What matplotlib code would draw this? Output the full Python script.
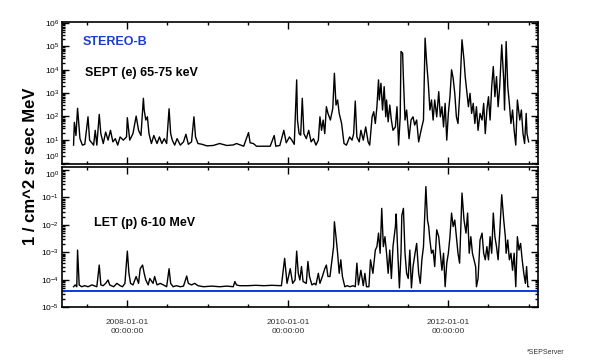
import matplotlib
matplotlib.use("Agg")
import matplotlib.pyplot as plt
import numpy as np
from matplotlib.ticker import LogLocator, FixedLocator, MultipleLocator, NullFormatter

plt.rcParams['font.family'] = ['Liberation Sans', 'DejaVu Sans']
plt.rcParams['mathtext.fontset'] = 'custom'
plt.rcParams['mathtext.rm'] = 'Liberation Sans'
plt.rcParams['mathtext.it'] = 'Liberation Sans'

# ---------------- data ----------------
# time in decimal years
sept_time = [
    2007.33, 2007.34, 2007.36, 2007.38, 2007.41, 2007.44, 2007.47, 2007.51, 2007.53, 2007.58,
    2007.60, 2007.62, 2007.65, 2007.67, 2007.70, 2007.73, 2007.76, 2007.79, 2007.82, 2007.85,
    2007.88, 2007.91, 2007.95, 2007.99, 2008.00, 2008.03, 2008.07, 2008.11, 2008.14, 2008.17,
    2008.20, 2008.21, 2008.23, 2008.25, 2008.27, 2008.30, 2008.33, 2008.37, 2008.40, 2008.43,
    2008.46, 2008.49, 2008.52, 2008.54, 2008.56, 2008.59, 2008.62, 2008.66, 2008.70, 2008.73,
    2008.76, 2008.80, 2008.83, 2008.85, 2008.88, 2008.93, 2008.99, 2009.07, 2009.15, 2009.24,
    2009.32, 2009.36, 2009.45, 2009.51, 2009.53, 2009.57, 2009.61, 2009.69, 2009.78, 2009.83,
    2009.85, 2009.90, 2009.95, 2009.98, 2010.02, 2010.05, 2010.08, 2010.11, 2010.12, 2010.14,
    2010.16, 2010.18, 2010.20, 2010.23, 2010.26, 2010.29, 2010.32, 2010.35, 2010.38, 2010.40,
    2010.42, 2010.44, 2010.46, 2010.48, 2010.50, 2010.53, 2010.56, 2010.58, 2010.60, 2010.62,
    2010.64, 2010.67, 2010.70, 2010.73, 2010.77, 2010.80, 2010.82, 2010.84, 2010.86, 2010.89,
    2010.91, 2010.94, 2010.97, 2011.00, 2011.02, 2011.05, 2011.07, 2011.09, 2011.11, 2011.13,
    2011.14, 2011.16, 2011.18, 2011.20, 2011.22, 2011.23, 2011.25, 2011.27, 2011.29, 2011.31,
    2011.34, 2011.36, 2011.38, 2011.40, 2011.41, 2011.43, 2011.44, 2011.46, 2011.48, 2011.51,
    2011.535, 2011.56, 2011.58, 2011.605, 2011.63, 2011.66, 2011.69, 2011.71, 2011.73, 2011.75,
    2011.77, 2011.79, 2011.81, 2011.83, 2011.855, 2011.88, 2011.90, 2011.92, 2011.94, 2011.96,
    2011.98, 2012.00, 2012.02, 2012.04, 2012.06, 2012.08, 2012.10, 2012.12, 2012.14, 2012.17,
    2012.195, 2012.21, 2012.23, 2012.25, 2012.27, 2012.29, 2012.31, 2012.33, 2012.35, 2012.37,
    2012.395, 2012.42, 2012.44, 2012.46, 2012.48, 2012.50, 2012.52, 2012.54, 2012.56, 2012.58,
    2012.60, 2012.62, 2012.64, 2012.665, 2012.69, 2012.70, 2012.72, 2012.74, 2012.76, 2012.78,
    2012.80, 2012.82, 2012.84, 2012.86, 2012.89, 2012.91, 2012.93, 2012.95, 2012.97, 2012.98,
    2013.00,
]
# SEPT electron flux 65-75 keV  [1 / cm^2 sr sec MeV]
sept_flux = [
    5.8, 55, 15, 220, 11, 5.8, 6.3, 95, 9.5, 5.8,
    25, 5.8, 120, 18, 6.8, 21, 9.5, 25, 8, 11,
    5.8, 13, 9.5, 13, 87, 9.5, 18, 102, 25, 15,
    590, 185, 69, 95, 18, 6.8, 15, 6.8, 13, 6.8,
    11, 6.8, 210, 18, 9.5, 5.8, 11, 5.8, 8, 17,
    6.3, 8, 95, 13, 6.8, 6.3, 5.4, 5.6, 6.8, 5.6,
    5.9, 6.8, 5.2, 20, 7.3, 6.8, 5.2, 5.2, 5.2, 15,
    5.2, 5.6, 25, 7.3, 13, 9.5, 6.3, 3630, 69, 18,
    15.5, 590, 18, 11, 25, 8, 11, 5.8, 9.5, 95,
    25, 69, 18, 257, 133, 69, 220, 7000, 303, 500,
    133, 49, 6.8, 5.8, 13, 9.5, 18, 450, 13, 8,
    25, 9.5, 35, 8, 5.8, 95, 157, 49, 257, 3630,
    500, 2600, 185, 1860, 95, 500, 58, 303, 69, 25,
    35, 257, 5.8, 95, 60000, 51000, 4260, 69, 185, 11,
    69, 95, 42, 69, 8, 25, 69, 224000, 19000, 2600,
    185, 500, 69, 500, 95, 1140, 95, 257, 35, 358,
    9.5, 133, 690, 9800, 4260, 960, 95, 49, 690, 190000,
    26000, 5000, 1140, 257, 960, 133, 358, 49, 257, 25,
    133, 69, 358, 18, 185, 690, 69, 1860, 13500, 690,
    5000, 257, 1860, 116000, 3630, 185, 160000, 1860, 358, 49,
    185, 25, 5.8, 500, 69, 185, 18, 6.8, 133, 18,
    8,
]

let_time = [
    2007.33, 2007.35, 2007.37, 2007.38, 2007.40, 2007.43, 2007.47, 2007.51, 2007.56, 2007.60,
    2007.62, 2007.65, 2007.67, 2007.70, 2007.73, 2007.76, 2007.78, 2007.83, 2007.87, 2007.91,
    2007.94, 2007.97, 2008.00, 2008.02, 2008.04, 2008.07, 2008.11, 2008.14, 2008.16, 2008.19,
    2008.21, 2008.23, 2008.26, 2008.28, 2008.32, 2008.34, 2008.37, 2008.41, 2008.45, 2008.49,
    2008.52, 2008.54, 2008.57, 2008.61, 2008.66, 2008.70, 2008.74, 2008.76, 2008.80, 2008.84,
    2008.88, 2008.95, 2009.05, 2009.15, 2009.24, 2009.32, 2009.34, 2009.36, 2009.40, 2009.50,
    2009.60, 2009.70, 2009.80, 2009.92, 2009.96, 2009.99, 2010.03, 2010.06, 2010.09, 2010.11,
    2010.13, 2010.15, 2010.17, 2010.19, 2010.23, 2010.25, 2010.27, 2010.30, 2010.33, 2010.35,
    2010.38, 2010.40, 2010.43, 2010.46, 2010.48, 2010.50, 2010.525, 2010.55, 2010.57, 2010.58,
    2010.60, 2010.62, 2010.64, 2010.66, 2010.68, 2010.71, 2010.74, 2010.775, 2010.81, 2010.84,
    2010.86, 2010.88, 2010.91, 2010.94, 2010.96, 2010.98, 2011.01, 2011.03, 2011.06, 2011.09,
    2011.11, 2011.13, 2011.15, 2011.17, 2011.19, 2011.21, 2011.23, 2011.25, 2011.27, 2011.29,
    2011.31, 2011.34, 2011.35, 2011.37, 2011.39, 2011.41, 2011.42, 2011.44, 2011.46, 2011.48,
    2011.50, 2011.52, 2011.54, 2011.56, 2011.585, 2011.605, 2011.63, 2011.65, 2011.67, 2011.69,
    2011.72, 2011.74, 2011.755, 2011.77, 2011.79, 2011.81, 2011.83, 2011.855, 2011.88, 2011.90,
    2011.92, 2011.94, 2011.96, 2011.98, 2012.00, 2012.02, 2012.04, 2012.06, 2012.08, 2012.10,
    2012.12, 2012.14, 2012.17, 2012.195, 2012.22, 2012.24, 2012.26, 2012.28, 2012.30, 2012.32,
    2012.34, 2012.35, 2012.37, 2012.395, 2012.42, 2012.44, 2012.46, 2012.48, 2012.50, 2012.52,
    2012.54, 2012.56, 2012.58, 2012.60, 2012.62, 2012.64, 2012.665, 2012.69, 2012.71, 2012.72,
    2012.74, 2012.76, 2012.78, 2012.80, 2012.82, 2012.84, 2012.86, 2012.88, 2012.90, 2012.92,
    2012.94, 2012.96, 2012.975, 2012.99, 2013.00,
]
# LET proton flux 6-10 MeV  [1 / cm^2 sr sec MeV]
let_flux = [
    5.5e-5, 6.4e-5, 5.5e-5, 1.2e-3, 6.4e-5, 5.5e-5, 6.0e-5, 5.5e-5, 6.4e-5, 5.8e-5,
    5.5e-5, 3.4e-4, 6.4e-5, 6.0e-5, 7.3e-5, 9.7e-5, 6.4e-5, 5.5e-5, 7.3e-5, 6.0e-5,
    5.5e-5, 7.3e-5, 1.1e-3, 1.7e-4, 7.3e-5, 6.4e-5, 1.3e-4, 7.3e-5, 2.5e-4, 3.4e-4,
    1.7e-4, 9.7e-5, 6.4e-5, 1.1e-4, 7.3e-5, 1.3e-4, 6.4e-5, 7.3e-5, 6.4e-5, 5.5e-5,
    2.5e-4, 7.3e-5, 5.5e-5, 6.0e-5, 5.5e-5, 5.8e-5, 1.35e-4, 7.3e-5, 6.4e-5, 7.3e-5,
    6.0e-5, 5.5e-5, 5.8e-5, 5.5e-5, 5.8e-5, 5.5e-5, 8.5e-5, 6.4e-5, 6.0e-5, 6.0e-5,
    6.2e-5, 6.0e-5, 6.2e-5, 6.0e-5, 6.0e-4, 7.3e-5, 2.5e-4, 7.3e-5, 9.7e-5, 1.1e-3,
    1.7e-4, 9.7e-5, 3.0e-4, 8.5e-5, 7.3e-5, 4.6e-4, 1.3e-4, 6.4e-5, 7.3e-5, 6.4e-5,
    1.7e-4, 7.3e-5, 1.3e-4, 2.5e-4, 3.4e-4, 1.3e-4, 1.3e-4, 5.3e-4, 1.6e-3, 1.3e-2,
    3.7e-3, 9.2e-4, 1.7e-4, 5.3e-4, 1.3e-4, 5.5e-5, 6.0e-5, 5.5e-5, 6.0e-5, 5.5e-5,
    4.0e-4, 6.4e-5, 2.2e-4, 6.0e-5, 1.7e-4, 5.5e-5, 5.5e-5, 5.3e-4, 1.7e-4, 1.2e-3,
    1.6e-3, 5.0e-3, 9.2e-4, 4.0e-2, 1.6e-3, 3.7e-3, 9.2e-4, 1.7e-4, 1.2e-3, 1.1e-4,
    1.6e-3, 8.7e-3, 2.5e-2, 9.2e-4, 5.0e-5, 9.2e-4, 2.2e-2, 4.0e-2, 9.2e-4, 1.7e-4,
    1.1e-4, 1.2e-3, 5.0e-5, 3.0e-4, 9.2e-4, 2.1e-3, 1.7e-4, 7.3e-5, 5.3e-4, 1.6e-3,
    2.5e-1, 1.5e-2, 8.7e-3, 2.8e-3, 9.2e-4, 1.2e-3, 3.0e-4, 6.6e-3, 3.7e-3, 9.2e-4,
    2.2e-4, 9.2e-4, 5.5e-5, 4.0e-4, 9.2e-4, 3.7e-3, 2.7e-2, 8.7e-3, 1.5e-2, 3.7e-3,
    9.2e-4, 4.0e-4, 1.45e-1, 1.5e-2, 5.0e-3, 2.7e-2, 9.2e-4, 3.7e-3, 9.2e-4, 5.3e-4,
    3.0e-4, 5.5e-5, 1.1e-4, 2.8e-3, 5.0e-3, 9.2e-4, 5.3e-4, 1.6e-3, 5.3e-4, 3.7e-3,
    9.2e-4, 2.7e-2, 3.7e-3, 1.6e-3, 5.3e-4, 5.0e-3, 1.26e-1, 1.5e-2, 3.7e-3, 9.2e-4,
    2.8e-3, 5.3e-4, 9.2e-4, 2.2e-4, 9.2e-4, 5.5e-5, 3.7e-3, 1.2e-3, 2.1e-3, 5.3e-4,
    1.7e-4, 7.3e-5, 3.0e-4, 5.5e-5, 5.5e-5,
]
let_background = 4.0e-5

xtick_years = [2008.0, 2010.0, 2012.0]
xtick_labels = ["2008-01-01\n00:00:00", "2010-01-01\n00:00:00", "2012-01-01\n00:00:00"]
x_limits = (2007.186, 2013.117)

spacecraft = "STEREO-B"
sept_label = "SEPT (e) 65-75 keV"
let_label = "LET (p) 6-10 MeV"
y_label = "1 / cm^2 sr sec MeV"
credit = "*SEPServer"

# ---------------- figure ----------------
W, H = 600, 362
fig = plt.figure(figsize=(W / 100, H / 100), dpi=100)


def box(l, t, r, b):
    return [l / W, 1 - b / H, (r - l) / W, (b - t) / H]


ax1 = fig.add_axes(box(62, 22, 538, 164))
ax2 = fig.add_axes(box(62, 167, 538, 307))

ax1.plot(sept_time, sept_flux, color='black', lw=1.0)
ax2.plot(let_time, let_flux, color='black', lw=1.0)
ax2.axhline(let_background, color='#0a3cd2', lw=1.4)

ax1.set_ylim(0.9, 1.1e6)
ax2.set_ylim(1e-5, 1.3)

for ax in (ax1, ax2):
    ax.set_yscale('log')
    ax.set_xlim(*x_limits)
    ax.xaxis.set_major_locator(FixedLocator(xtick_years))
    ax.xaxis.set_minor_locator(MultipleLocator(0.5))
    ax.yaxis.set_major_locator(LogLocator(base=10, numticks=12))
    ax.yaxis.set_minor_locator(LogLocator(base=10, subs=np.arange(2, 10), numticks=12))
    ax.yaxis.set_minor_formatter(NullFormatter())
    ax.tick_params(which='both', direction='in', top=True, right=True, width=1.0,
                   labelsize=6, colors='black')
    ax.tick_params(which='major', length=5)
    ax.tick_params(which='minor', length=2.5)
    ax.tick_params(axis='y', pad=2)
    for s in ax.spines.values():
        s.set_linewidth(1.2)

ax1.set_xticklabels([])
ax2.set_xticklabels(xtick_labels, fontsize=6, color='#333333', linespacing=1.3)
ax2.tick_params(axis='x', pad=9)

# keep the two "10^0" labels at the panel junction from colliding
fig.canvas.draw()
for lab in ax1.get_yticklabels():
    if lab.get_position()[1] == 1.0:
        lab.set_va('bottom')
for lab in ax2.get_yticklabels():
    if lab.get_position()[1] == 1.0:
        lab.set_va('top')

fig.text(83 / W, 1 - 42 / H, spacecraft, color='#1a3dd0', fontsize=9, fontweight='bold',
         va='center', ha='left')
fig.text(85 / W, 1 - 73 / H, sept_label, color='black', fontsize=9, fontweight='bold',
         va='center', ha='left')
fig.text(94 / W, 1 - 223 / H, let_label, color='black', fontsize=9, fontweight='bold',
         va='center', ha='left')
fig.text(31 / W, 1 - 166 / H, y_label, color='black', fontsize=12, fontweight='bold',
         va='center', ha='center', rotation=90)
fig.text(527 / W, 1 - 352 / H, credit, color='#333333', fontsize=5, va='center', ha='left')

fig.savefig("out.png", dpi=100)
